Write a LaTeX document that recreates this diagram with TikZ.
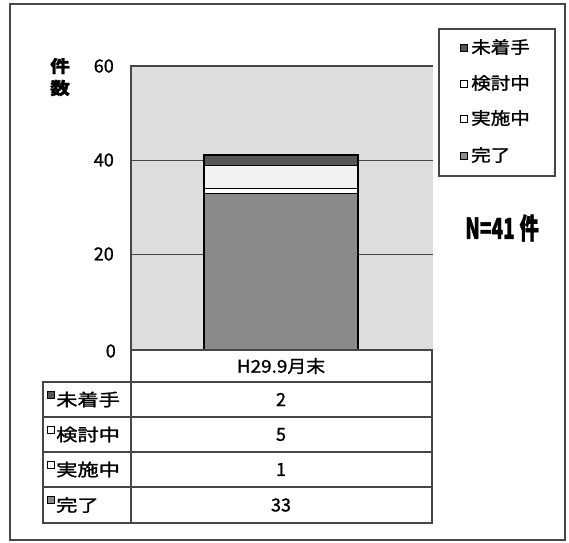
\documentclass[tikz,border=0pt]{standalone}
\usepackage{fontspec}
\setmainfont{Noto Sans CJK JP}[FakeBold=1.3]
\usepackage{graphicx}
\newcommand{\widetxt}[2][1.2]{\scalebox{#1}[1]{#2}}
\definecolor{plotbg}{HTML}{DDDDDD}
\definecolor{barA}{HTML}{8A8A8A}
\definecolor{barB}{HTML}{555555}
\definecolor{barC}{HTML}{F2F2F2}
\definecolor{framec}{HTML}{474747}
\tikzset{
  axlab/.style={anchor=east, font=\fontsize{18}{18}\selectfont, inner sep=0pt},
  legtxt/.style={anchor=west, font=\fontsize{17}{17}\selectfont, inner sep=0pt},
  tabtxt/.style={font=\fontsize{17}{17}\selectfont, inner sep=0pt},
  numtxt/.style={font=\fontsize{18}{18}\selectfont, inner sep=0pt},
  cell/.style={draw=framec, line width=1.3pt, fill=white},
  mk/.style={draw=black, line width=0.9pt, minimum size=7pt, inner sep=0pt},
  grid line/.style={draw=framec, line width=1pt},
}
\begin{document}
\begin{tikzpicture}[x=1pt, y=-1pt]
\useasboundingbox (0,0) rectangle (569,542);
\fill[white] (0,0) rectangle (569,542);
% outer frame
\draw[framec, line width=2pt] (10,4) rectangle (565,540);
% plot area
\fill[plotbg] (131,66) rectangle (433,350);
\draw[grid line] (131,160) -- (433,160);
\draw[grid line] (131,254) -- (433,254);
\draw[framec, line width=1.3pt] (131,350) -- (131,66) -- (433,66);
% bar
\fill[barA] (204,193) rectangle (358,350);
\fill[white] (204,188) rectangle (358,193);
\fill[barC] (204,165) rectangle (358,188);
\fill[barB] (204,155) rectangle (358,165);
\draw[black, line width=1.2pt] (204,350) -- (204,155) -- (358,155) -- (358,350);
\draw[black, line width=1pt] (204,165) -- (358,165);
\draw[black, line width=1pt] (204,188) -- (358,188);
\draw[black, line width=1pt] (204,193) -- (358,193);
% axis labels
\node[axlab] (y60) at (114,66) {60};
\node[axlab] (y40) at (114,160) {40};
\node[axlab] (y20) at (114,254) {20};
\node[axlab] (y0) at (116,351) {0};
\node[font=\fontsize{17}{17}\selectfont\bfseries, inner sep=0pt] (ylab1) at (60,66) {\widetxt[1.15]{件}};
\node[font=\fontsize{17}{17}\selectfont\bfseries, inner sep=0pt] (ylab2) at (60,88) {\widetxt[1.15]{数}};
% legend
\draw[framec, line width=1.5pt, fill=white] (439,29) rectangle (555,176);
\node[mk, fill=barB] (lm1) at (464,48) {};
\node[legtxt] (lt1) at (471,47) {\widetxt[1.15]{未着手}};
\node[mk, fill=white] (lm2) at (464,84) {};
\node[legtxt] (lt2) at (471,83) {\widetxt[1.15]{検討中}};
\node[mk, fill=white] (lm3) at (464,119) {};
\node[legtxt] (lt3) at (471,118) {\widetxt[1.15]{実施中}};
\node[mk, fill=barA] (lm4) at (464,156) {};
\node[legtxt] (lt4) at (471,155) {\widetxt[1.15]{完了}};
% N label
\node[font=\fontsize{29}{29}\selectfont\bfseries, inner sep=0pt] (nlab) at (502,228) {\scalebox{0.66}[1]{N=41\kern0.25em 件}};
% table
\draw[cell] (131,350) rectangle (432,382);
\node[font=\fontsize{17.5}{17.5}\selectfont, inner sep=0pt] (hdr) at (281,366) {\widetxt[1.08]{H29.9月末}};
\foreach \ya/\yb/\lab/\val/\col [count=\i] in {382/417/未着手/2/barB, 417/452/検討中/5/white, 452/487/実施中/1/white, 487/523/完了/33/barA}{
  \draw[cell] (43,\ya) rectangle (131,\yb);
  \draw[cell] (131,\ya) rectangle (432,\yb);
  \node[mk, fill=\col] (tm\i) at (51,{(\ya+\yb)/2-5}) {};
  \node[tabtxt, anchor=west] (tl\i) at (56,{(\ya+\yb)/2}) {\widetxt[1.25]{\lab}};
  \node[numtxt] (tv\i) at (281,{(\ya+\yb)/2}) {\val};
}
\end{tikzpicture}
\end{document}
